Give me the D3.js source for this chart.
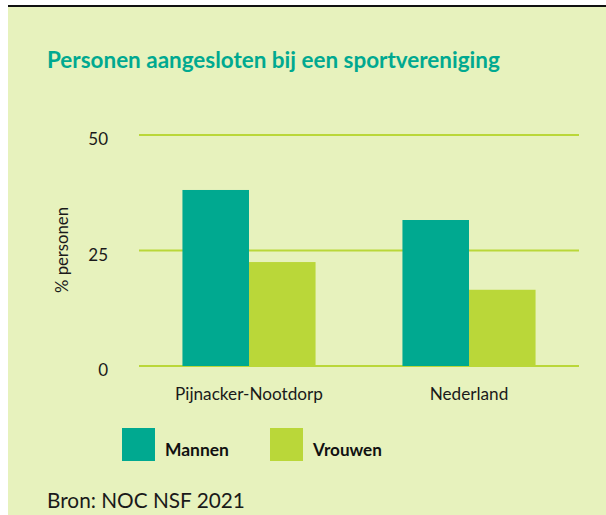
<!doctype html>
<html lang="nl">
<head>
<meta charset="utf-8">
<title>Personen aangesloten bij een sportvereniging</title>
<script src="https://cdn.jsdelivr.net/npm/d3@7"></script>
<style>
  body { margin: 0; background: #fff; }
  svg { display: block; font-family: Lato, "Open Sans", sans-serif; }
</style>
</head>
<body>
<svg id="chart" width="606" height="515"></svg>
<script>
// data
var regions = ["Pijnacker-Nootdorp", "Nederland"];
var series = ["Mannen", "Vrouwen"];
var mannen = [38.1, 31.6];
var vrouwen = [22.5, 16.5];
var yTicks = [0, 25, 50];

var teal = "#00a990";
var lime = "#bad739";
var colors = [teal, lime];

var svg = d3.select("#chart");

// shrink or grow a text until it has the wanted width
function fitWidth(sel, w) {
  var size = parseFloat(sel.attr("font-size"));
  var cur = sel.node().getComputedTextLength();
  sel.attr("font-size", (size * w / cur).toFixed(2));
}

// panel
svg.append("rect")
  .attr("x", 8).attr("y", 6)
  .attr("width", 598).attr("height", 509)
  .attr("fill", "#e7f2bd");
svg.append("line")
  .attr("x1", 8).attr("x2", 606)
  .attr("y1", 6).attr("y2", 6)
  .attr("stroke", "#111").attr("stroke-width", 2);

var title = svg.append("text")
  .attr("x", 47).attr("y", 68)
  .attr("font-size", 20).attr("font-weight", "bold")
  .attr("fill", teal)
  .text("Personen aangesloten bij een sportvereniging");
fitWidth(title, 453);

var x0 = d3.scaleBand()
  .domain(regions)
  .range([139, 579])
  .paddingInner(0.395)
  .paddingOuter(0.1975);

var x1 = d3.scaleBand()
  .domain(series)
  .range([0, x0.bandwidth()]);

var y = d3.scaleLinear()
  .domain([0, 50])
  .range([366, 135]);

// gridlines
svg.append("g")
  .selectAll("line")
  .data(yTicks)
  .join("line")
  .attr("x1", 139).attr("x2", 579)
  .attr("y1", d => y(d)).attr("y2", d => y(d))
  .attr("stroke", lime).attr("stroke-width", 2);

// y tick labels
svg.append("g")
  .selectAll("text")
  .data(yTicks)
  .join("text")
  .attr("x", 108)
  .attr("y", d => y(d) + 10)
  .attr("text-anchor", "end")
  .attr("font-size", 17)
  .attr("fill", "#1a1a1a")
  .text(d => d);

var yLab = svg.append("text")
  .attr("transform", "translate(68,250) rotate(-90)")
  .attr("text-anchor", "middle")
  .attr("font-size", 15)
  .attr("fill", "#1a1a1a")
  .text("% personen");
fitWidth(yLab, 86);

// bars
var table = regions.map((r, i) => ({ region: r, values: [mannen[i], vrouwen[i]] }));

svg.append("g")
  .selectAll("g")
  .data(table)
  .join("g")
  .attr("transform", d => "translate(" + x0(d.region) + ",0)")
  .selectAll("rect")
  .data(d => d.values.map((v, j) => ({ key: series[j], value: v, c: colors[j] })))
  .join("rect")
  .attr("x", d => x1(d.key))
  .attr("width", x1.bandwidth())
  .attr("y", d => y(d.value))
  .attr("height", d => y(0) - y(d.value))
  .attr("fill", d => d.c);

// region labels
var xLabels = svg.append("g")
  .selectAll("text")
  .data(regions)
  .join("text")
  .attr("x", d => x0(d) + x0.bandwidth() / 2)
  .attr("y", 400)
  .attr("text-anchor", "middle")
  .attr("font-size", 17)
  .attr("fill", "#1a1a1a")
  .text(d => d);
fitWidth(d3.select(xLabels.nodes()[0]), 148);
d3.select(xLabels.nodes()[1]).attr("font-size", d3.select(xLabels.nodes()[0]).attr("font-size"));

// legend
var legX = [122, 270];
var legW = [64, 69];
var leg = svg.append("g")
  .selectAll("g")
  .data(series)
  .join("g")
  .attr("transform", (d, i) => "translate(" + legX[i] + ",428)");
leg.append("rect")
  .attr("width", 33).attr("height", 33)
  .attr("fill", (d, i) => colors[i]);
leg.append("text")
  .attr("x", 43).attr("y", 28)
  .attr("font-size", 15).attr("font-weight", "bold")
  .attr("fill", "#111")
  .text(d => d)
  .each(function(d, i) { fitWidth(d3.select(this), legW[i]); });

var bron = svg.append("text")
  .attr("x", 47).attr("y", 508)
  .attr("font-size", 20)
  .attr("fill", "#1a1a1a")
  .text("Bron: NOC NSF 2021");
fitWidth(bron, 198);
</script>
</body>
</html>
